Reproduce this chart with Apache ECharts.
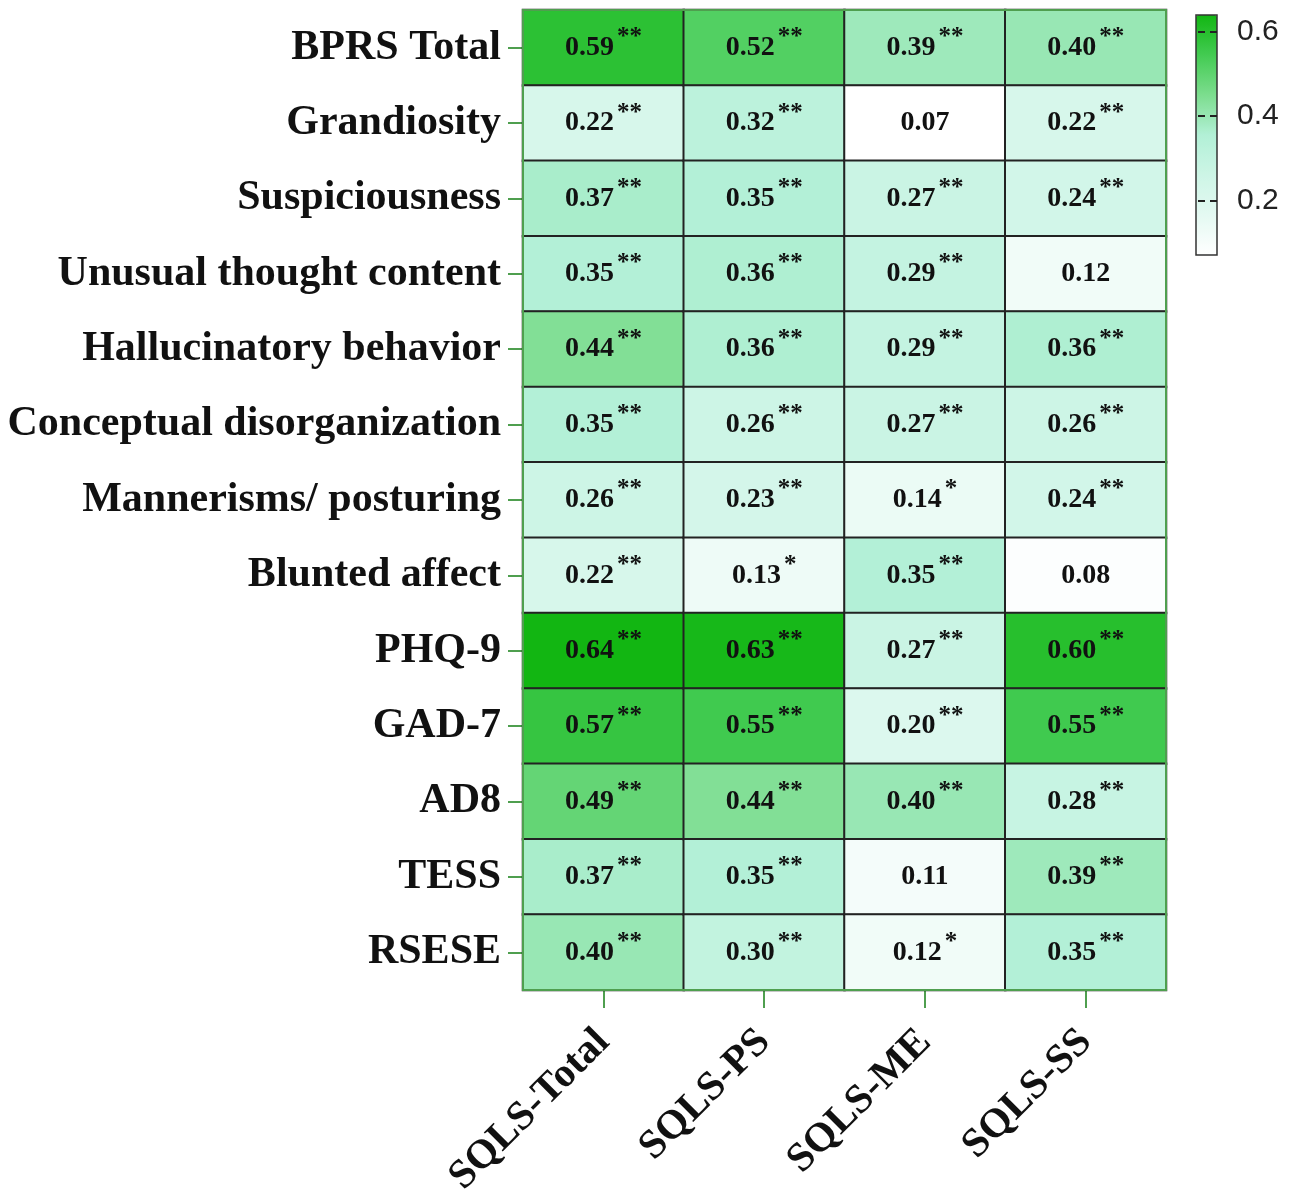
<!DOCTYPE html>
<html>
<head>
<meta charset="utf-8">
<script src="https://cdn.jsdelivr.net/npm/echarts@6/dist/echarts.min.js"></script>
<style>
  html, body { margin: 0; padding: 0; background: #fff; }
  #chart { width: 1298px; height: 1196px; }
</style>
</head>
<body>
<div id="chart"></div>
<script>
// rows top -> bottom
const rows = [
  "BPRS Total", "Grandiosity", "Suspiciousness", "Unusual thought content",
  "Hallucinatory behavior", "Conceptual disorganization", "Mannerisms/ posturing",
  "Blunted affect", "PHQ-9", "GAD-7", "AD8", "TESS", "RSESE"
];
const cols = ["SQLS-Total", "SQLS-PS", "SQLS-ME", "SQLS-SS"];

// correlation values, one array per column
const sqlsTotal = [0.59, 0.22, 0.37, 0.35, 0.44, 0.35, 0.26, 0.22, 0.64, 0.57, 0.49, 0.37, 0.40];
const sqlsPS    = [0.52, 0.32, 0.35, 0.36, 0.36, 0.26, 0.23, 0.13, 0.63, 0.55, 0.44, 0.35, 0.30];
const sqlsME    = [0.39, 0.07, 0.27, 0.29, 0.29, 0.27, 0.14, 0.35, 0.27, 0.20, 0.40, 0.11, 0.12];
const sqlsSS    = [0.40, 0.22, 0.24, 0.12, 0.36, 0.26, 0.24, 0.08, 0.60, 0.55, 0.28, 0.39, 0.35];

// significance marks
const starsTotal = ["**", "**", "**", "**", "**", "**", "**", "**", "**", "**", "**", "**", "**"];
const starsPS    = ["**", "**", "**", "**", "**", "**", "**", "*",  "**", "**", "**", "**", "**"];
const starsME    = ["**", "",   "**", "**", "**", "**", "*",  "**", "**", "**", "**", "",   "*"];
const starsSS    = ["**", "**", "**", "",   "**", "**", "**", "",   "**", "**", "**", "**", "**"];

const colorTicks = [0.2, 0.4, 0.6];
const scaleMin = 0.07, scaleMax = 0.64;

const valueCols = [sqlsTotal, sqlsPS, sqlsME, sqlsSS];
const starCols = [starsTotal, starsPS, starsME, starsSS];

const cells = [];
valueCols.forEach((arr, c) => {
  arr.forEach((v, r) => cells.push([c, r, v]));
});

const serif = "'Liberation Serif', 'Times New Roman', serif";
const green = "#4f9f4f";

const chart = echarts.init(document.getElementById("chart"));
chart.setOption({
  backgroundColor: "#fff",
  animation: false,
  grid: [
    { left: 523, right: 132, top: 10, bottom: 206, outerBoundsMode: "none", containLabel: false,
      show: true, borderColor: green, borderWidth: 2, z: 3 },
    { left: 1196, width: 21, top: 15, height: 240, outerBoundsMode: "none", containLabel: false,
      show: true, borderColor: "#333", borderWidth: 1.5, backgroundColor: "transparent", z: 6 }
  ],
  xAxis: [
    {
      type: "category", data: cols, gridIndex: 0, position: "bottom",
      axisLine: { show: true, lineStyle: { color: green, width: 2 } },
      axisTick: { show: true, alignWithLabel: true, length: 18, lineStyle: { color: green, width: 2 } },
      axisLabel: {
        rotate: 45, margin: 46, color: "#111",
        fontFamily: serif, fontWeight: "bold", fontSize: 41
      },
      splitLine: { show: false }
    },
    { type: "value", gridIndex: 1, show: false, min: 0, max: 1 }
  ],
  yAxis: [
    {
      type: "category", data: rows, gridIndex: 0, inverse: true,
      axisLine: { show: true, lineStyle: { color: green, width: 2 } },
      axisTick: { show: true, alignWithLabel: true, length: 15, lineStyle: { color: green, width: 2 } },
      axisLabel: {
        margin: 22, color: "#111",
        fontFamily: serif, fontWeight: "bold", fontSize: 42
      }
    },
    {
      type: "value", gridIndex: 1, position: "right", z: 10,
      min: scaleMin, max: scaleMax,
      axisLine: { show: false, onZero: false },
      axisTick: {
        show: true, inside: true, length: 21, customValues: colorTicks,
        lineStyle: { color: "#222", width: 2, type: [7, 5] }
      },
      axisLabel: {
        customValues: colorTicks, margin: 20, color: "#222",
        fontFamily: "'Liberation Sans', Arial, sans-serif", fontSize: 30,
        formatter: v => v.toFixed(1)
      },
      splitLine: { show: false }
    }
  ],
  visualMap: {
    type: "continuous",
    seriesIndex: 0,
    min: scaleMin, max: scaleMax,
    calculable: false,
    orient: "vertical",
    left: 1196, top: 15,
    itemWidth: 21, itemHeight: 240,
    padding: 0,
    text: ["", ""],
    showLabel: false,
    inRange: {
      color: ["#ffffff", "#e4f9f2", "#cdf5e6", "#b2f0d6", "#7cdd8e", "#43cb52", "#12b612"]
    }
  },
  series: [
    {
      type: "heatmap",
      xAxisIndex: 0, yAxisIndex: 0,
      data: cells,
      itemStyle: { borderColor: "#222", borderWidth: 2 },
      label: {
        show: true,
        formatter: p => {
          const s = starCols[p.data[0]][p.data[1]];
          return "{v|" + p.data[2].toFixed(2) + "}" + (s ? "{s|" + s + "}" : "");
        },
        rich: {
          v: { fontFamily: serif, fontWeight: "bold", fontSize: 28, color: "#111", lineHeight: 30 },
          s: { fontFamily: serif, fontWeight: "bold", fontSize: 25, color: "#111", lineHeight: 24, padding: [0, 0, 20, 3] }
        }
      },
      emphasis: { disabled: true }
    }
  ]
});
</script>
</body>
</html>
